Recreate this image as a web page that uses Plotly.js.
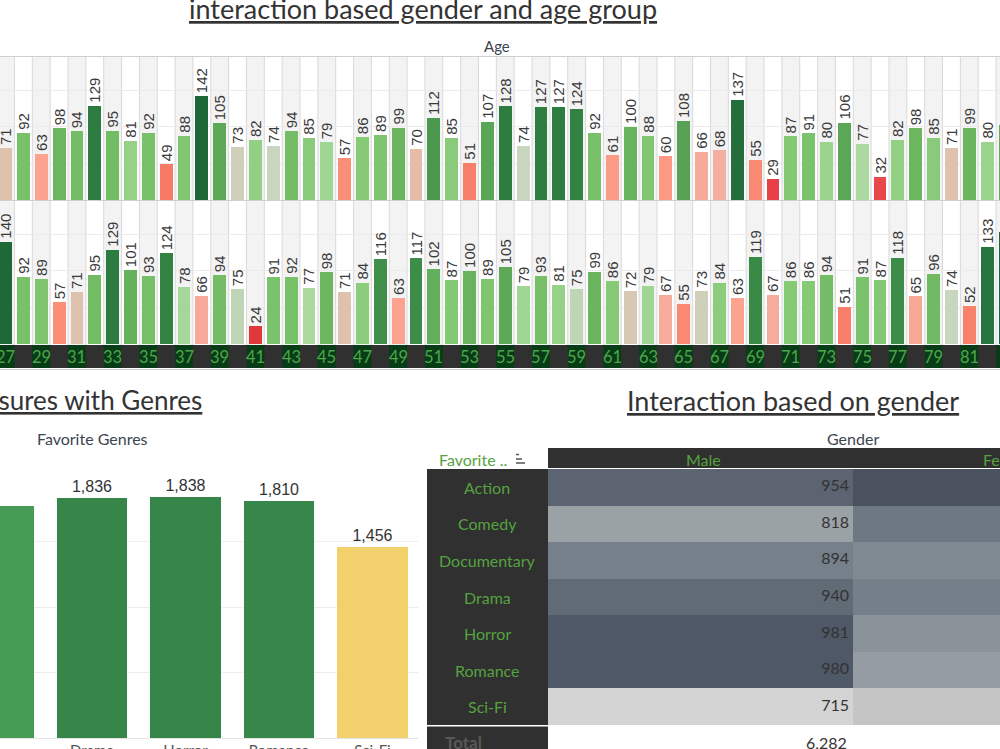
<!DOCTYPE html>
<html>
<head>
<meta charset="utf-8">
<script src="https://cdn.plot.ly/plotly-3.0.1.min.js"></script>
<style>
  html, body { margin: 0; padding: 0; background: #fff; overflow: hidden; }
  #chart { width: 1000px; height: 749px; }
</style>
</head>
<body>
<div id="chart"></div>
<script>
// ---- data ----
const ages = [27, 28, 29, 30, 31, 32, 33, 34, 35, 36, 37, 38, 39, 40, 41, 42, 43, 44, 45, 46,
              47, 48, 49, 50, 51, 52, 53, 54, 55, 56, 57, 58, 59, 60, 61, 62, 63, 64, 65, 66,
              67, 68, 69, 70, 71, 72, 73, 74, 75, 76, 77, 78, 79, 80, 81, 82, 83];
const interactionRow1 = [71, 92, 63, 98, 94, 129, 95, 81, 92, 49, 88, 142, 105, 73, 82, 74, 94, 85, 79, 57,
                         86, 89, 99, 70, 112, 85, 51, 107, 128, 74, 127, 127, 124, 92, 61, 100, 88, 60, 108, 66,
                         68, 137, 55, 29, 87, 91, 80, 106, 77, 32, 82, 98, 85, 71, 99, 80, 103];
const interactionRow2 = [140, 92, 89, 57, 71, 95, 129, 101, 93, 124, 78, 66, 94, 75, 24, 91, 92, 77, 98, 71,
                         84, 116, 63, 117, 102, 87, 100, 89, 105, 79, 93, 81, 75, 99, 86, 72, 79, 67, 55, 73,
                         84, 63, 119, 67, 86, 86, 94, 51, 91, 87, 118, 65, 96, 74, 52, 133, 153];

const genreNames = ['Documentary', 'Drama', 'Horror', 'Romance', 'Sci-Fi'];
const genreTotals = [1769, 1836, 1838, 1810, 1456];

const tableGenres = ['Action', 'Comedy', 'Documentary', 'Drama', 'Horror', 'Romance', 'Sci-Fi'];
const genders = ['Male', 'Female'];
const maleCounts = [954, 818, 894, 940, 981, 980, 715];
const femaleCounts = [1000, 912, 875, 896, 857, 830, 741];

// ---- helpers: pixel -> paper ----
const W = 1000, H = 749;
const px = x => x / W;
const py = y => 1 - y / H;

// ---- styles ----
const TITLE_FONT = 'Lato, "Open Sans", sans-serif';
const MARK_FONT = '"Liberation Sans", Arial, sans-serif';
const GREEN_TEXT = '#55a23f';
const DARK_CELL = '#303030';

// diverging red -> tan -> green scale keyed on interaction count
const divergingStops = [
  [24, '#e0383d'], [32, '#e8474b'], [50, '#f77d68'], [57, '#fb8e77'], [63, '#fca28e'],
  [68, '#f3afa0'], [71, '#dfc2ad'], [74, '#c8d5bf'], [77, '#abd9a0'], [81, '#95d287'],
  [87, '#83c873'], [93, '#76bf67'], [100, '#68b35d'], [107, '#5aa556'], [116, '#3f8e49'],
  [126, '#2f8042'], [142, '#1d6638']
];
const cMin = 24, cMax = 142;
const divergingScale = divergingStops.map(([v, c]) => [(v - cMin) / (cMax - cMin), c]);

const genreScale = [[0, '#f2d06b'], [0.55, '#8db65b'], [0.82, '#469b55'], [0.9, '#37874a'], [1, '#36864a']];

const grayScale = [
  [0, '#d4d4d4'], [0.09, '#c5c5c5'], [0.36, '#9ba2a6'], [0.5, '#8a9399'],
  [0.63, '#75808a'], [0.79, '#616b76'], [0.93, '#4f5866'], [1, '#4a5260']
];

// table geometry (pixels): first value column starts at 548, each column 305 wide
const TABLE_X0 = 548, TABLE_COL_W = 305;

// ---- traces ----
const barCommon = {
  type: 'bar', x: ages, width: 0.72, xaxis: 'x',
  textposition: 'outside', textangle: -90, cliponaxis: false, constraintext: 'none',
  textfont: { family: MARK_FONT, size: 15, color: '#3a3a3a' }, hoverinfo: 'skip'
};
const traces = [
  Object.assign({}, barCommon, {
    y: interactionRow1, yaxis: 'y', text: interactionRow1.map(String),
    marker: { color: interactionRow1, colorscale: divergingScale, cmin: cMin, cmax: cMax }
  }),
  Object.assign({}, barCommon, {
    y: interactionRow2, yaxis: 'y2', text: interactionRow2.map(String),
    marker: { color: interactionRow2, colorscale: divergingScale, cmin: cMin, cmax: cMax }
  }),
  {
    type: 'bar', x: genreNames, y: genreTotals, xaxis: 'x3', yaxis: 'y3', width: 0.75,
    marker: { color: genreTotals, colorscale: genreScale, cmin: 1456, cmax: 1838 },
    texttemplate: '%{y:,}', textposition: 'outside', cliponaxis: false, constraintext: 'none',
    textfont: { family: MARK_FONT, size: 16, color: '#333' }, hoverinfo: 'skip'
  },
  {
    type: 'heatmap', x: [0, 1], y: tableGenres.map((g, i) => i),
    z: tableGenres.map((g, i) => [maleCounts[i], femaleCounts[i]]),
    xaxis: 'x4', yaxis: 'y4', colorscale: grayScale, zmin: 715, zmax: 1000,
    showscale: false, hoverinfo: 'skip'
  },
  {
    type: 'scatter', mode: 'text', xaxis: 'x4', yaxis: 'y4',
    x: tableGenres.map(() => 0.487).concat(tableGenres.map(() => 1.487)),
    y: tableGenres.map((g, i) => i).concat(tableGenres.map((g, i) => i)),
    text: maleCounts.map(String).concat(femaleCounts.map(String)),
    textposition: 'middle left',
    textfont: { family: TITLE_FONT, size: 16, color: '#333' }, hoverinfo: 'skip'
  }
];

// ---- shapes ----
const shapes = [];
ages.forEach(a => {
  if (a % 2 === 1) {
    shapes.push({ type: 'rect', layer: 'below', xref: 'x', yref: 'paper', x0: a - 0.5, x1: a + 0.5,
      y0: py(345), y1: py(57), fillcolor: '#f3f3f3', line: { width: 0 } });
  }
  shapes.push({ type: 'line', layer: 'below', xref: 'x', yref: 'paper', x0: a - 0.5, x1: a - 0.5,
    y0: py(345), y1: py(57), line: { color: '#d9d9d9', width: 1 } });
});
shapes.push(
  { type: 'line', xref: 'paper', yref: 'paper', x0: 0, x1: 1, y0: py(56.5), y1: py(56.5), line: { color: '#cfcfcf', width: 1 } },
  { type: 'line', xref: 'paper', yref: 'paper', x0: 0, x1: 1, y0: py(200.5), y1: py(200.5), line: { color: '#cfcfcf', width: 1 } },
  { type: 'rect', xref: 'paper', yref: 'paper', x0: 0, x1: 1, y0: py(368), y1: py(345), fillcolor: DARK_CELL, line: { width: 0 } },
  { type: 'line', xref: 'paper', yref: 'paper', x0: 0, x1: 1, y0: py(369.5), y1: py(369.5), line: { color: '#cfcfcf', width: 1 } }
);
ages.filter(a => a % 2 === 1).forEach(a => {
  shapes.push({ type: 'rect', xref: 'x', yref: 'paper', x0: a - 0.5, x1: a + 0.5,
    y0: py(368), y1: py(345), fillcolor: '#083c17', line: { width: 0 } });
});
// table frame
shapes.push(
  { type: 'rect', xref: 'paper', yref: 'paper', x0: px(548), x1: 1, y0: py(468), y1: py(448), fillcolor: DARK_CELL, line: { width: 0 } },
  { type: 'rect', xref: 'paper', yref: 'paper', x0: px(427), x1: px(548), y0: py(725), y1: py(469), fillcolor: DARK_CELL, line: { width: 0 } },
  { type: 'rect', xref: 'paper', yref: 'paper', x0: px(427), x1: px(548), y0: 0, y1: py(726.5), fillcolor: DARK_CELL, line: { width: 0 } },
  { type: 'line', xref: 'paper', yref: 'paper', x0: px(516), x1: px(519), y0: py(454.5), y1: py(454.5), line: { color: '#555', width: 1.5 } },
  { type: 'line', xref: 'paper', yref: 'paper', x0: px(516), x1: px(522), y0: py(459), y1: py(459), line: { color: '#555', width: 1.5 } },
  { type: 'line', xref: 'paper', yref: 'paper', x0: px(516), x1: px(525), y0: py(463), y1: py(463), line: { color: '#555', width: 1.5 } }
);

// ---- annotations ----
const ann = (o) => Object.assign({ showarrow: false, xref: 'paper', yref: 'paper',
  xanchor: 'center', yanchor: 'middle' }, o);
const annotations = [
  ann({ x: px(423), y: py(8), text: '<u>interaction based gender and age group</u>',
        font: { family: TITLE_FONT, size: 27, color: '#333' } }),
  ann({ x: px(497), y: py(46), text: 'Age', font: { family: TITLE_FONT, size: 15, color: '#3d4450' } }),
  ann({ x: px(204), xanchor: 'right', y: py(400), text: '<u>Measures with Genres</u>',
        font: { family: TITLE_FONT, size: 26, color: '#333' } }),
  ann({ x: px(92), y: py(438), text: 'Favorite Genres', font: { family: TITLE_FONT, size: 16, color: '#3d4450' } }),
  ann({ x: px(793), y: py(400), text: '<u>Interaction based on gender</u>',
        font: { family: TITLE_FONT, size: 27, color: '#333' } }),
  ann({ x: px(853), y: py(438), text: 'Gender', font: { family: TITLE_FONT, size: 16, color: '#3d4450' } }),
  ann({ x: px(437), xanchor: 'left', y: py(459), text: 'Favorite ..', font: { family: TITLE_FONT, size: 16, color: GREEN_TEXT } }),
  ann({ x: px(463), y: py(742), text: '<b>Total</b>', font: { family: TITLE_FONT, size: 17, color: '#585858' } }),
  ann({ x: px(849), xanchor: 'right', y: py(742),
        text: maleCounts.reduce((s, v) => s + v, 0).toLocaleString('en-US'),
        font: { family: TITLE_FONT, size: 16, color: '#333' } })
];
ages.filter(a => a % 2 === 1).forEach(a => {
  annotations.push(ann({ xref: 'x', x: a, y: py(357), text: String(a),
    font: { family: TITLE_FONT, size: 16.5, color: '#4ea64a' } }));
});
// column headers: left-anchored from the centred text width so the second one runs off the edge
genders.forEach((g, i) => {
  const centre = TABLE_X0 + (i + 0.5) * TABLE_COL_W;
  annotations.push(ann({ x: px(centre - g.length * 4.1), xanchor: 'left', y: py(459), text: g,
    font: { family: TITLE_FONT, size: 16, color: GREEN_TEXT } }));
});
tableGenres.forEach((g, i) => {
  annotations.push(ann({ x: px(487), yref: 'y4', y: i, text: g,
    font: { family: TITLE_FONT, size: 16, color: GREEN_TEXT } }));
});

// ---- layout ----
const hiddenAxis = { showgrid: false, zeroline: false, showticklabels: false, ticks: '', showline: false, fixedrange: true };
const layout = {
  width: W, height: H,
  margin: { l: 0, r: 0, t: 0, b: 0, pad: 0 },
  paper_bgcolor: '#fff', plot_bgcolor: 'rgba(0,0,0,0)',
  showlegend: false, bargap: 0,
  xaxis: Object.assign({}, hiddenAxis, { domain: [0, 1], anchor: 'y2', range: [26.69, 82.72] }),
  yaxis: Object.assign({}, hiddenAxis, { domain: [py(200), py(57)], anchor: 'x', range: [0, 195.6],
          showgrid: true, gridcolor: '#ebebeb', tickvals: [50, 100, 150] }),
  yaxis2: Object.assign({}, hiddenAxis, { domain: [py(344), py(201)], anchor: 'x', range: [0, 195.6],
          showgrid: true, gridcolor: '#ebebeb', tickvals: [50, 100, 150] }),
  xaxis3: { domain: [0, px(418)], anchor: 'y3', range: [0.016, 4.487], showgrid: false, zeroline: false,
          showline: false, ticks: '', ticklabelstandoff: 2,
          tickfont: { family: TITLE_FONT, size: 15, color: '#555' }, fixedrange: true },
  yaxis3: Object.assign({}, hiddenAxis, { domain: [py(738.3), py(476)], anchor: 'x3', range: [0, 2000],
          showgrid: true, gridcolor: '#eeeeee', tickvals: [500, 1000, 1500, 2000],
          zeroline: true, zerolinecolor: '#e3e3e3', zerolinewidth: 1 }),
  xaxis4: Object.assign({}, hiddenAxis, { domain: [px(TABLE_X0), 1], anchor: 'y4',
          range: [-0.5, -0.5 + (W - TABLE_X0) / TABLE_COL_W] }),
  yaxis4: Object.assign({}, hiddenAxis, { domain: [py(725), py(469)], anchor: 'x4', range: [6.5, -0.5] }),
  shapes: shapes,
  annotations: annotations
};

Plotly.newPlot('chart', traces, layout, { staticPlot: true, displayModeBar: false });
</script>
</body>
</html>
